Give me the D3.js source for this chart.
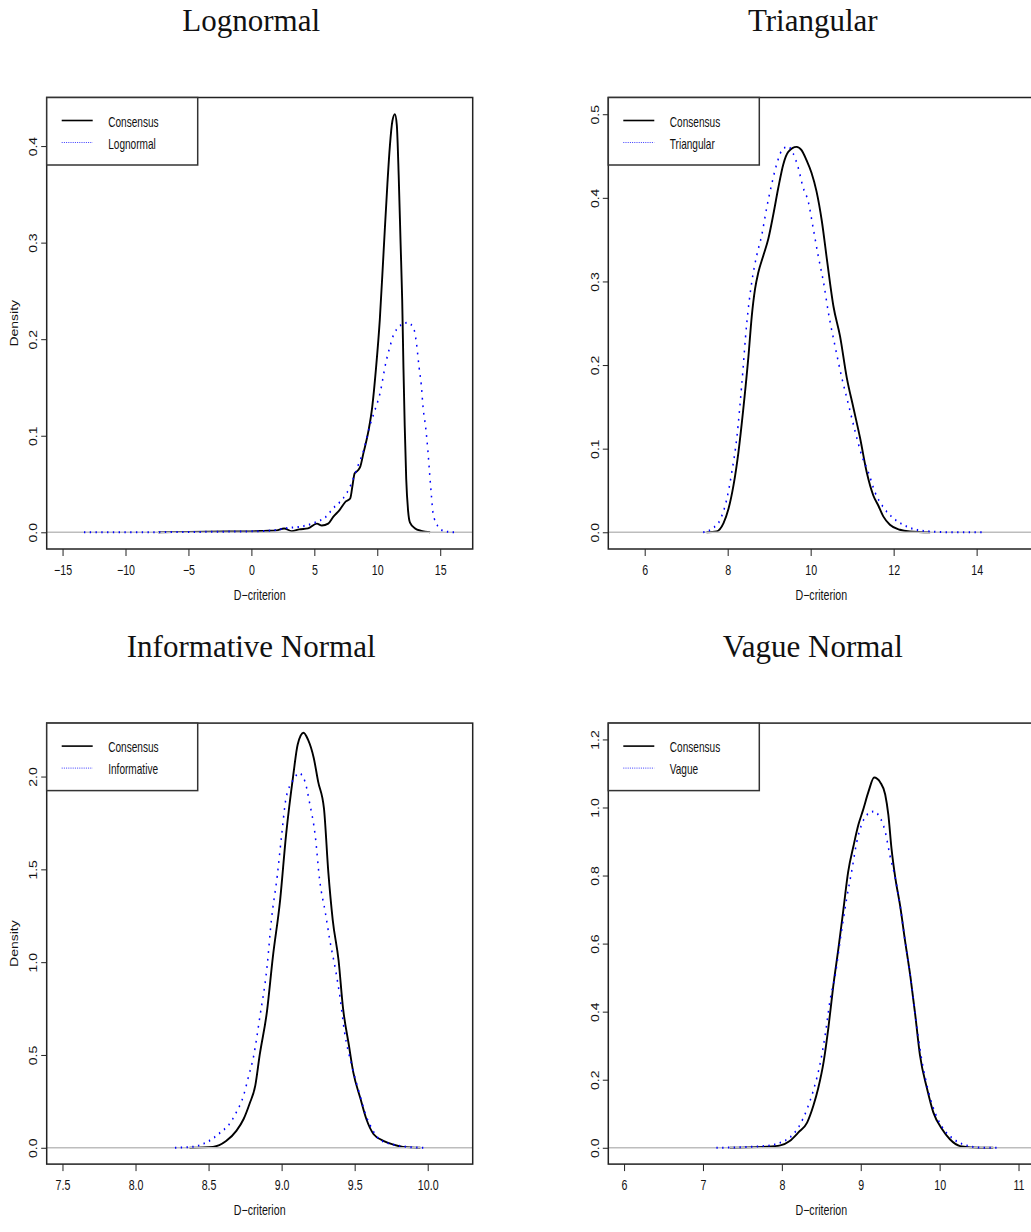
<!DOCTYPE html>
<html>
<head>
<meta charset="utf-8">
<script src="https://cdn.jsdelivr.net/npm/d3@7"></script>
<style>
  body { margin: 0; background: #fff; }
  svg { display: block; }
  .sans { font-family: "Liberation Sans", Arial, Helvetica, sans-serif; fill: #111; }
  .serif { font-family: "Liberation Serif", "Times New Roman", serif; fill: #111; }
</style>
</head>
<body>
<svg id="fig" width="1031" height="1232"></svg>
<script>
// ---- Density estimates of the D-criterion: consensus vs. each prior ----

// Lognormal prior
const lognormalConsensus = [
  [-7.4,0],[-5,0.0004],[-2,0.0008],[0,0.001],[1,0.0015],[2,0.002],[2.6,0.004],[3.2,0.0012],
  [3.8,0.003],[4.5,0.004],[5.2,0.009],[5.6,0.007],[6.1,0.009],[6.5,0.016],[7.0,0.023],
  [7.5,0.032],[7.85,0.035],[8.05,0.05],[8.2,0.061],[8.45,0.064],[8.65,0.068],[8.9,0.082],
  [9.3,0.105],[9.6,0.13],[9.9,0.17],[10.2,0.22],[10.5,0.29],[10.8,0.36],[11.0,0.4],
  [11.2,0.426],[11.4,0.433],[11.55,0.422],[11.7,0.37],[11.85,0.3],[11.98,0.24],[12.08,0.17],
  [12.18,0.11],[12.3,0.055],[12.45,0.022],[12.6,0.01],[13.0,0.004],[13.5,0.0015],[14.2,0]
];
const lognormalPrior = [
  [-13.3,0],[-10,0.0001],[-5,0.0003],[-2,0.0007],[0,0.001],[1.7,0.002],[3.0,0.0046],
  [4.1,0.0063],[5.0,0.0098],[6.0,0.017],[6.5,0.025],[7.0,0.031],[7.55,0.04],[8.08,0.055],
  [8.47,0.069],[8.92,0.085],[9.4,0.11],[9.8,0.126],[10.2,0.143],[10.72,0.178],[11.0,0.192],
  [11.25,0.203],[11.52,0.21],[11.91,0.215],[12.36,0.217],[12.84,0.213],[13.11,0.196],
  [13.32,0.171],[13.5,0.152],[13.64,0.129],[13.85,0.108],[14.03,0.083],[14.17,0.059],
  [14.3,0.038],[14.43,0.02],[14.83,0.006],[15.36,0.001],[16.15,0]
];

// Triangular prior
const triangularConsensus = [
  [7.49,0],[7.73,0.001],[7.9,0.011],[8.02,0.028],[8.14,0.056],[8.26,0.096],[8.38,0.149],
  [8.5,0.21],[8.58,0.258],[8.66,0.291],[8.74,0.311],[8.86,0.331],[8.98,0.351],[9.1,0.38],
  [9.22,0.412],[9.34,0.44],[9.46,0.455],[9.66,0.461],[9.78,0.457],[9.9,0.445],[10.02,0.43],
  [10.14,0.408],[10.27,0.372],[10.39,0.327],[10.55,0.27],[10.71,0.234],[10.87,0.185],
  [11.03,0.149],[11.19,0.113],[11.35,0.072],[11.51,0.044],[11.63,0.032],[11.75,0.019],
  [11.91,0.009],[12.15,0.003],[12.39,0.001],[12.88,0]
];
const triangularPrior = [
  [7.41,0],[7.65,0.005],[7.82,0.015],[7.98,0.04],[8.1,0.072],[8.22,0.113],[8.34,0.177],
  [8.46,0.25],[8.58,0.299],[8.7,0.331],[8.82,0.355],[8.94,0.388],[9.06,0.416],[9.18,0.44],
  [9.34,0.459],[9.46,0.461],[9.58,0.453],[9.7,0.436],[9.82,0.412],[9.94,0.396],[10.06,0.364],
  [10.18,0.331],[10.31,0.299],[10.43,0.262],[10.59,0.222],[10.75,0.185],[10.91,0.153],
  [11.07,0.121],[11.23,0.092],[11.39,0.072],[11.55,0.048],[11.75,0.03],[11.99,0.017],
  [12.23,0.009],[12.55,0.003],[12.88,0.001],[13.36,0],[14.16,0]
];

// Informative normal prior
const informativeConsensus = [
  [8.37,0],[8.53,0.005],[8.62,0.036],[8.69,0.091],[8.74,0.155],[8.78,0.236],[8.82,0.336],
  [8.85,0.5],[8.9,0.736],[8.94,1.027],[8.99,1.336],[9.03,1.682],[9.08,2.009],[9.11,2.173],
  [9.15,2.236],[9.18,2.2],[9.22,2.1],[9.25,1.973],[9.29,1.827],[9.32,1.482],[9.35,1.227],
  [9.39,1.009],[9.42,0.755],[9.46,0.555],[9.49,0.409],[9.54,0.264],[9.58,0.155],[9.63,0.073],
  [9.7,0.036],[9.76,0.018],[9.83,0.005],[9.95,0]
];
const informativePrior = [
  [8.27,0],[8.39,0.005],[8.49,0.031],[8.58,0.082],[8.65,0.136],[8.69,0.191],[8.74,0.282],
  [8.77,0.373],[8.81,0.5],[8.85,0.7],[8.9,0.973],[8.93,1.227],[8.97,1.464],[9.0,1.682],
  [9.03,1.882],[9.08,1.982],[9.12,2.018],[9.16,1.973],[9.19,1.864],[9.23,1.682],[9.26,1.445],
  [9.3,1.264],[9.33,1.118],[9.37,0.955],[9.4,0.809],[9.43,0.627],[9.48,0.445],[9.53,0.3],
  [9.57,0.191],[9.62,0.1],[9.67,0.045],[9.76,0.018],[9.86,0.005],[9.97,0]
];

// Vague normal prior
const vagueConsensus = [
  [7.34,0],[7.81,0.003],[7.98,0.007],[8.1,0.02],[8.21,0.045],[8.32,0.074],[8.4,0.124],
  [8.46,0.174],[8.53,0.253],[8.59,0.353],[8.65,0.472],[8.72,0.591],[8.78,0.7],[8.84,0.81],
  [8.91,0.889],[8.97,0.949],[9.03,0.993],[9.1,1.048],[9.17,1.088],[9.25,1.073],[9.31,1.038],
  [9.35,0.978],[9.39,0.879],[9.44,0.79],[9.5,0.71],[9.56,0.611],[9.63,0.502],[9.69,0.392],
  [9.75,0.273],[9.84,0.174],[9.92,0.104],[10.03,0.055],[10.13,0.025],[10.26,0.005],
  [10.51,0],[10.68,0]
];
const vaguePrior = [
  [7.17,0],[7.77,0.005],[7.98,0.015],[8.1,0.03],[8.21,0.06],[8.32,0.114],[8.4,0.169],
  [8.49,0.253],[8.55,0.333],[8.61,0.432],[8.68,0.512],[8.74,0.611],[8.82,0.73],[8.89,0.819],
  [8.95,0.899],[9.01,0.949],[9.1,0.983],[9.16,0.988],[9.25,0.968],[9.31,0.929],[9.37,0.859],
  [9.44,0.79],[9.5,0.71],[9.56,0.611],[9.63,0.502],[9.69,0.392],[9.77,0.263],[9.86,0.164],
  [9.94,0.104],[10.05,0.055],[10.18,0.025],[10.34,0.007],[10.56,0],[10.77,0]
];

// Axis ticks
const lognormalXTicks = [-15, -10, -5, 0, 5, 10, 15];
const lognormalYTicks = [0, 0.1, 0.2, 0.3, 0.4];
const triangularXTicks = [6, 8, 10, 12, 14];
const triangularYTicks = [0, 0.1, 0.2, 0.3, 0.4, 0.5];
const informativeXTicks = [7.5, 8.0, 8.5, 9.0, 9.5, 10.0];
const informativeYTicks = [0, 0.5, 1.0, 1.5, 2.0];
const vagueXTicks = [6, 7, 8, 9, 10, 11];
const vagueYTicks = [0, 0.2, 0.4, 0.6, 0.8, 1.0, 1.2];

const panelTitles = ["Lognormal", "Triangular", "Informative Normal", "Vague Normal"];
const legendLabels = [["Consensus", "Lognormal"], ["Consensus", "Triangular"],
                      ["Consensus", "Informative"], ["Consensus", "Vague"]];
const xAxisTitle = "D\u2212criterion";
const yAxisTitle = "Density";

// ---- layout ----
const SX = 0.76;       // horizontal squeeze of the sans-serif text
const PW = 426;        // plot box width
const FS = "14px";     // axis text size
const panels = [
  { title: panelTitles[0], legend: legendLabels[0], consensus: lognormalConsensus, prior: lognormalPrior,
    xDomain: [-16.26, 17.58], yDomain: [-0.0173, 0.4503], xTicks: lognormalXTicks, yTicks: lognormalYTicks,
    xFmt: d3.format("d"), yFmt: d3.format(".1f"), left: 46.7, top: 97.5, h: 451.5, showY: true },
  { title: panelTitles[1], legend: legendLabels[1], consensus: triangularConsensus, prior: triangularPrior,
    xDomain: [5.123, 15.39], yDomain: [-0.02, 0.52], xTicks: triangularXTicks, yTicks: triangularYTicks,
    xFmt: d3.format("d"), yFmt: d3.format(".1f"), left: 608.3, top: 97.5, h: 451.5, showY: false },
  { title: panelTitles[2], legend: legendLabels[2], consensus: informativeConsensus, prior: informativePrior,
    xDomain: [7.392, 10.308], yDomain: [-0.088, 2.288], xTicks: informativeXTicks, yTicks: informativeYTicks,
    xFmt: d3.format(".1f"), yFmt: d3.format(".1f"), left: 46.7, top: 723.1, h: 441, showY: true },
  { title: panelTitles[3], legend: legendLabels[3], consensus: vagueConsensus, prior: vaguePrior,
    xDomain: [5.8, 11.2], yDomain: [-0.048, 1.248], xTicks: vagueXTicks, yTicks: vagueYTicks,
    xFmt: d3.format("d"), yFmt: d3.format(".1f"), left: 608.3, top: 723.1, h: 441, showY: false }
];

const svg = d3.select("#fig");

panels.forEach((p, i) => {
  const x = d3.scaleLinear().domain(p.xDomain).range([p.left, p.left + PW]);
  const y = d3.scaleLinear().domain(p.yDomain).range([p.top + p.h, p.top]);
  const bottom = p.top + p.h;
  const g = svg.append("g");

  const clipId = "clip" + i;
  g.append("clipPath").attr("id", clipId)
    .append("rect").attr("x", p.left).attr("y", p.top).attr("width", PW).attr("height", p.h);

  // panel title
  svg.append("text").attr("class", "serif")
    .attr("x", p.left + PW / 2 - 8.5)
    .attr("y", p.top < 400 ? 31 : 657)
    .attr("text-anchor", "middle")
    .style("font-size", "31px")
    .text(p.title);

  const plot = g.append("g").attr("clip-path", `url(#${clipId})`);

  // consensus density
  const line = d3.line().x(d => x(d[0])).y(d => y(d[1])).curve(d3.curveMonotoneX);
  plot.append("path").datum(p.consensus)
    .attr("d", line)
    .attr("fill", "none").attr("stroke", "#000").attr("stroke-width", 1.9)
    .attr("stroke-linejoin", "round");

  // zero line
  plot.append("line")
    .attr("x1", p.left).attr("x2", p.left + PW)
    .attr("y1", y(0)).attr("y2", y(0))
    .attr("stroke", "#bdbdbd").attr("stroke-width", 1.4);

  // prior density, dotted; drawn in a horizontally squeezed frame
  const xs = x.copy().range([p.left / SX, (p.left + PW) / SX]);
  const lineS = d3.line().x(d => xs(d[0])).y(d => y(d[1])).curve(d3.curveMonotoneX);
  plot.append("g").attr("transform", `scale(${SX},1)`)
    .append("path").datum(p.prior)
    .attr("d", lineS)
    .attr("fill", "none").attr("stroke", "#0000ff").attr("stroke-width", 2)
    .attr("stroke-dasharray", "1.8 5.8");

  // x axis
  const xAxis = d3.axisBottom(x).tickValues(p.xTicks).tickFormat(p.xFmt).tickSize(7).tickPadding(0);
  g.append("g").attr("transform", `translate(0,${bottom})`).call(xAxis)
    .call(a => a.select(".domain").remove())
    .call(a => a.selectAll(".tick line").attr("stroke", "#222"))
    .call(a => a.selectAll(".tick text")
      .attr("class", "sans").attr("y", null).attr("dy", null)
      .attr("transform", `translate(0,25.5) scale(${SX},1)`)
      .style("font-size", FS).attr("fill", "#111"));

  // y axis (labels rotated)
  const yAxis = d3.axisLeft(y).tickValues(p.yTicks).tickFormat(p.yFmt).tickSize(5.5).tickPadding(0);
  g.append("g").attr("transform", `translate(${p.left},0)`).call(yAxis)
    .call(a => a.select(".domain").remove())
    .call(a => a.selectAll(".tick line").attr("stroke", "#222"))
    .call(a => a.selectAll(".tick text")
      .attr("class", "sans").attr("x", null).attr("dy", null)
      .attr("text-anchor", "middle")
      .attr("transform", `translate(-9.5,0) scale(${SX},1) rotate(-90)`)
      .style("font-size", FS).attr("fill", "#111"));

  // plot frame
  g.append("rect").attr("x", p.left).attr("y", p.top).attr("width", PW).attr("height", p.h)
    .attr("fill", "none").attr("stroke", "#222").attr("stroke-width", 1.5);

  // axis titles
  g.append("text").attr("class", "sans")
    .attr("transform", `translate(${p.left + PW / 2},${bottom + 51}) scale(${SX},1)`)
    .attr("text-anchor", "middle").style("font-size", FS)
    .text(xAxisTitle);
  if (p.showY) {
    g.append("text").attr("class", "sans")
      .attr("transform", `translate(18,${p.top + p.h / 2}) scale(${SX},1) rotate(-90)`)
      .attr("text-anchor", "middle").style("font-size", FS)
      .text(yAxisTitle);
  }

  // legend
  const lg = g.append("g").attr("transform", `translate(${p.left},${p.top})`);
  lg.append("rect").attr("x", 0).attr("y", 0).attr("width", 151).attr("height", 67.5)
    .attr("fill", "#fff").attr("stroke", "#333").attr("stroke-width", 1.5);
  lg.append("line").attr("x1", 15).attr("x2", 46).attr("y1", 23).attr("y2", 23)
    .attr("stroke", "#000").attr("stroke-width", 1.6);
  lg.append("line").attr("x1", 15).attr("x2", 46).attr("y1", 45).attr("y2", 45)
    .attr("stroke", "#3b3bff").attr("stroke-width", 1).attr("stroke-dasharray", "1 1.2");
  p.legend.forEach((t, k) => {
    lg.append("text").attr("class", "sans")
      .attr("transform", `translate(61.5,${29 + 22 * k}) scale(0.72,1)`)
      .style("font-size", "14px")
      .text(t);
  });
});
</script>
</body>
</html>
